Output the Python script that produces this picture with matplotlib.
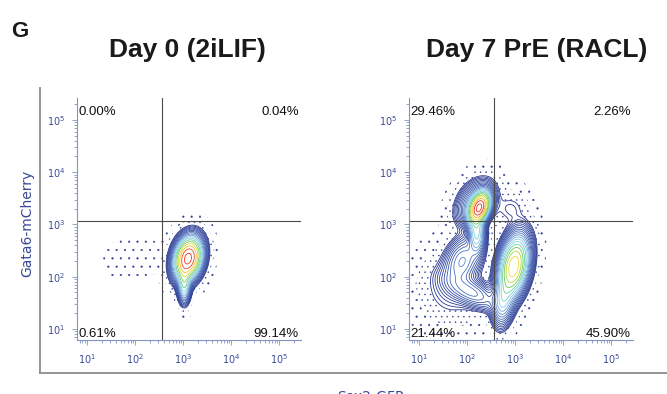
import numpy as np
import matplotlib
matplotlib.use("Agg")
import matplotlib.pyplot as plt
from matplotlib.colors import LinearSegmentedColormap
from matplotlib.lines import Line2D
from matplotlib.ticker import LogLocator, NullFormatter

# Cell populations as 2-D log-normal components:
# centre (log10 Sox2-GFP, log10 Gata6-mCherry), spreads, correlation, weight
day0_mu_x = [3.10, 3.02, 1.95]
day0_mu_y = [2.35, 1.85, 2.35]
day0_sd_x = [0.15, 0.07, 0.35]
day0_sd_y = [0.21, 0.18, 0.25]
day0_rho = [0.20, 0.00, 0.10]
day0_w = [0.88, 0.08, 0.0015]

day7_mu_x = [2.25, 2.18, 2.20, 2.97, 2.75, 1.90, 2.10, 1.70, 2.90]
day7_mu_y = [3.32, 3.40, 2.85, 2.20, 1.55, 2.30, 1.70, 1.80, 3.30]
day7_sd_x = [0.11, 0.20, 0.09, 0.16, 0.12, 0.20, 0.30, 0.35, 0.20]
day7_sd_y = [0.15, 0.22, 0.22, 0.30, 0.25, 0.25, 0.18, 0.35, 0.18]
day7_rho = [0.35, 0.30, 0.00, 0.30, 0.20, 0.30, -0.60, 0.00, 0.00]
day7_w = [0.22, 0.06, 0.05, 0.36, 0.05, 0.05, 0.035, 0.02, 0.004]

titles = ["Day 0 (2iLIF)", "Day 7 PrE (RACL)"]
quadrants_day0 = ["0.00%", "0.04%", "0.61%", "99.14%"]
quadrants_day7 = ["29.46%", "2.26%", "21.44%", "45.90%"]
gate_x = 355.0
gate_y = 1170.0
xlabel = "Sox2-GFP"
ylabel = "Gata6-mCherry"

W, H = 667, 394
AXIS_BLUE = "#8593c4"
TEXT_BLUE = "#3a4a94"
plt.rcParams["hatch.color"] = "#2e3d8f"
plt.rcParams["hatch.linewidth"] = 0.3

contour_cmap = LinearSegmentedColormap.from_list(
    "flow",
    [(0.00, "#27348b"), (0.35, "#3652a8"), (0.50, "#5a88cc"),
     (0.60, "#8ccbe8"), (0.68, "#6cd3c4"), (0.75, "#6cc55a"),
     (0.81, "#c4dc3c"), (0.86, "#f4e03a"), (0.91, "#f59a2a"),
     (0.95, "#e5331d"), (1.00, "#e5331d")],
)

fig = plt.figure(figsize=(W / 100, H / 100), dpi=100)


def px_axes(x0, y0, x1, y1):
    return fig.add_axes([x0 / W, 1 - y1 / H, (x1 - x0) / W, (y1 - y0) / H])


LX = (0.79, 5.45)
LY = (0.79, 5.42)
gx = np.linspace(LX[0], LX[1], 360)
gy = np.linspace(LY[0], LY[1], 360)
GX, GY = np.meshgrid(gx, gy)


def mixture(mx, my, sx, sy, rho, w):
    z = np.zeros_like(GX)
    for a, b, c, d, r, k in zip(mx, my, sx, sy, rho, w):
        u = (GX - a) / c
        v = (GY - b) / d
        q = (u * u - 2 * r * u * v + v * v) / (1 - r * r)
        z += k * np.exp(-0.5 * q) / (2 * np.pi * c * d * np.sqrt(1 - r * r))
    return z


def draw_panel(ax, z, quads, lo, n):
    zmax = z.max()
    lev = zmax * 10 ** np.linspace(lo, -0.05, n)
    X, Y = 10 ** GX, 10 ** GY
    # outlying events: denser stipple next to the outer contour, sparse beyond
    ax.contourf(X, Y, z, levels=[zmax * 10 ** (lo - 0.7), lev[0]],
                colors="none", hatches=["..."])
    ax.contourf(X, Y, z, levels=[zmax * 10 ** (lo - 1.9), zmax * 10 ** (lo - 0.7)],
                colors="none", hatches=[".."])
    cols = contour_cmap(np.linspace(0, 1, n))
    ax.contour(X, Y, z, levels=lev, colors=cols, linewidths=0.6)

    ax.set_xscale("log")
    ax.set_yscale("log")
    ax.set_xlim(10 ** LX[0], 10 ** LX[1])
    ax.set_ylim(10 ** LY[0], 10 ** LY[1])
    for axis in (ax.xaxis, ax.yaxis):
        axis.set_major_locator(LogLocator(base=10, numticks=10))
        axis.set_minor_locator(LogLocator(base=10, subs=np.arange(2, 10), numticks=10))
        axis.set_minor_formatter(NullFormatter())
    for s in ("top", "right"):
        ax.spines[s].set_visible(False)
    for s in ("left", "bottom"):
        ax.spines[s].set_color(AXIS_BLUE)
        ax.spines[s].set_linewidth(0.8)
    ax.tick_params(which="both", direction="out", color=AXIS_BLUE,
                   labelcolor=TEXT_BLUE, labelsize=7, width=0.6)
    ax.tick_params(which="major", length=3.5, pad=5)
    ax.tick_params(which="minor", length=2)
    ax.set_facecolor("none")

    ax.axvline(gate_x, color="#4a4a4a", lw=0.8)
    ax.axhline(gate_y, color="#4a4a4a", lw=0.8)

    kw = dict(xycoords="axes fraction", textcoords="offset pixels",
              fontsize=9.5, family="Liberation Sans", color="#111111",
              va="baseline")
    ax.annotate(quads[0], (0, 1), xytext=(1.5, -17), ha="left", **kw)
    ax.annotate(quads[1], (1, 1), xytext=(-2, -17), ha="right", **kw)
    ax.annotate(quads[2], (0, 0), xytext=(1.5, 3), ha="left", **kw)
    ax.annotate(quads[3], (1, 0), xytext=(-2, 3), ha="right", **kw)


ax0 = px_axes(77, 98, 301, 340)
ax1 = px_axes(409, 98, 633, 340)
z0 = mixture(day0_mu_x, day0_mu_y, day0_sd_x, day0_sd_y, day0_rho, day0_w)
z1 = mixture(day7_mu_x, day7_mu_y, day7_sd_x, day7_sd_y, day7_rho, day7_w)
draw_panel(ax0, z0, quadrants_day0, -2.0, 18)
draw_panel(ax1, z1, quadrants_day7, -2.3, 21)

# panel titles and figure letter
for title, cx in zip(titles, (187, 537)):
    fig.text(cx / W, 1 - 57 / H, title, ha="center", va="baseline",
             fontsize=19, fontweight="bold", family="Liberation Sans",
             color="#1a1a1a")
fig.text(11 / W, 1 - 37 / H, "G", ha="left", va="baseline",
         fontsize=16, fontweight="bold", family="Liberation Sans", color="#1a1a1a")

# shared axis titles
fig.text(27 / W, 1 - 223 / H, ylabel, rotation=90, ha="center", va="center",
         fontsize=10, color=TEXT_BLUE)
fig.text(370 / W, 1 - 390 / H, xlabel, ha="center", va="top",
         fontsize=10, color=TEXT_BLUE)

# outer frame
fig.add_artist(Line2D([40 / W, 40 / W], [1 - 88 / H, 1 - 373 / H],
                      transform=fig.transFigure, color="#8c8c8c", lw=1.3))
fig.add_artist(Line2D([40 / W, 1.0], [1 - 373 / H, 1 - 373 / H],
                      transform=fig.transFigure, color="#8c8c8c", lw=1.3))

fig.savefig("out.png", dpi=100)
